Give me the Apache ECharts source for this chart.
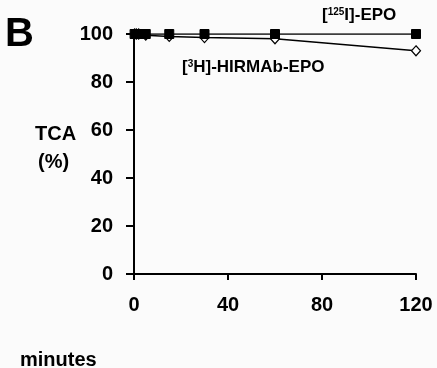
<!DOCTYPE html>
<html>
<head>
<meta charset="utf-8">
<script src="https://cdn.jsdelivr.net/npm/echarts@6/dist/echarts.min.js"></script>
<style>
  html, body { margin: 0; padding: 0; background: #fbfbfb; }
  #chart { width: 437px; height: 368px; }
</style>
</head>
<body>
<div id="chart"></div>
<script>
// time points (minutes) and TCA (%)
var minutes = [0.25, 1, 2, 5, 15, 30, 60, 120];
var epoTCA = [100, 100, 100, 100, 100, 100, 100, 100];        // [125I]-EPO
var hirmabTCA = [100, 100, 100, 99.5, 99, 98.5, 98, 93];      // [3H]-HIRMAb-EPO
var xTicks = [0, 40, 80, 120];
var yTicks = [0, 20, 40, 60, 80, 100];

function pairs(xs, ys) {
    return xs.map(function (x, i) { return [x, ys[i]]; });
}

var font = 'Liberation Sans, Arial, sans-serif';
var myChart = echarts.init(document.getElementById('chart'));

var option = {
    backgroundColor: '#fbfbfb',
    animation: false,
    grid: { left: 134, right: 21, top: 34, bottom: 94 },
    xAxis: {
        type: 'value',
        min: xTicks[0],
        max: xTicks[xTicks.length - 1],
        interval: 40,
        splitLine: { show: false },
        axisLine: { lineStyle: { color: '#000', width: 2 } },
        axisTick: { inside: false, length: 6, lineStyle: { color: '#000', width: 2 } },
        axisLabel: { margin: 21, color: '#000', fontSize: 20, fontWeight: 'bold', fontFamily: font }
    },
    yAxis: {
        type: 'value',
        min: yTicks[0],
        max: yTicks[yTicks.length - 1],
        interval: 20,
        splitLine: { show: false },
        axisLine: { show: true, lineStyle: { color: '#000', width: 2 } },
        axisTick: { show: true, length: 8, lineStyle: { color: '#000', width: 2 } },
        axisLabel: { margin: 21, color: '#000', fontSize: 20, fontWeight: 'bold', fontFamily: font }
    },
    series: [
        {
            name: '[3H]-HIRMAb-EPO',
            type: 'line',
            data: pairs(minutes, hirmabTCA),
            symbol: 'diamond',
            symbolSize: [9, 10],
            lineStyle: { color: '#000', width: 1.5 },
            itemStyle: { color: '#fff', borderColor: '#000', borderWidth: 1.2 },
            z: 2
        },
        {
            name: '[125I]-EPO',
            type: 'line',
            data: pairs(minutes, epoTCA),
            symbol: 'rect',
            symbolSize: 9,
            lineStyle: { color: '#000', width: 1.5 },
            itemStyle: { color: '#000', borderColor: '#000' },
            z: 3
        }
    ],
    graphic: [
        { type: 'text', left: 5, top: 15,
          style: { text: 'B', font: 'bold 40px ' + font, fill: '#000' } },
        { type: 'text', left: 35, top: 124,
          style: { text: 'TCA', font: 'bold 20px ' + font, fill: '#000' } },
        { type: 'text', left: 38, top: 152,
          style: { text: '(%)', font: 'bold 20px ' + font, fill: '#000' } },
        { type: 'text', left: 20, top: 350,
          style: { text: 'minutes', font: 'bold 20px ' + font, fill: '#000' } },
        { type: 'text', left: 322, top: 7,
          style: {
              text: '[{s|125}I]-EPO', font: 'bold 17px ' + font, fill: '#000',
              rich: { s: { fontSize: 10, fontWeight: 'bold', fontFamily: font, verticalAlign: 'top', padding: [0, 0, 6, 0] } }
          } },
        { type: 'text', left: 182, top: 59,
          style: {
              text: '[{s|3}H]-HIRMAb-EPO', font: 'bold 17px ' + font, fill: '#000',
              rich: { s: { fontSize: 10, fontWeight: 'bold', fontFamily: font, verticalAlign: 'top', padding: [0, 0, 6, 0] } }
          } }
    ]
};

myChart.setOption(option);
</script>
</body>
</html>
